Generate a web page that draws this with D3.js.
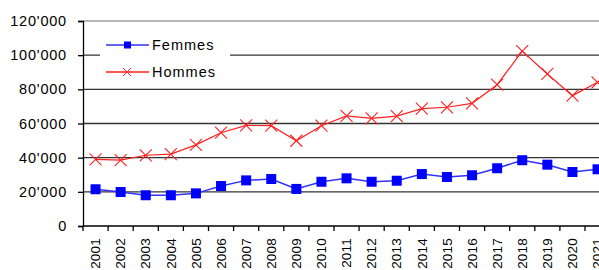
<!DOCTYPE html>
<html>
<head>
<meta charset="utf-8">
<script src="https://cdn.jsdelivr.net/npm/d3@7"></script>
<style>
body { margin: 0; background: #fff; }
svg { display: block; }
text { font-family: Arial, "Liberation Sans", sans-serif; }
</style>
</head>
<body>
<script>
let years = ["2001","2002","2003","2004","2005","2006","2007","2008","2009","2010","2011",
             "2012","2013","2014","2015","2016","2017","2018","2019","2020","2021"];
let femmes = [21500,19900,18000,18000,19100,23400,26700,27500,21700,25900,27900,
              25900,26500,30400,28700,29700,33800,38500,35900,31600,33200];
let hommes = [39000,38600,41400,42100,47500,54600,58900,58700,49900,58700,64400,
              63000,64300,68700,69500,71800,82700,102400,89000,76300,84100];
let yTicks = [0,20000,40000,60000,80000,100000,120000];
let seriesNames = ["Femmes","Hommes"];

let w = 599, h = 270;
let plotLeft = 83, plotTop = 21, plotBottom = 226;
let bandW = 25.1;

let svg = d3.select("body").append("svg")
  .attr("width", w)
  .attr("height", h);

let xScale = d3.scaleBand()
  .domain(years)
  .range([plotLeft, plotLeft + bandW * years.length]);

let yScale = d3.scaleLinear()
  .domain([0, 120000])
  .range([plotBottom, plotTop]);

let fmt = (d) => d3.format(",")(d).replace(/,/g, "'");

// gridlines
svg.append("g").selectAll("line")
  .data(yTicks.filter(d => d > 0))
  .enter().append("line")
  .attr("x1", plotLeft).attr("x2", w)
  .attr("y1", d => yScale(d)).attr("y2", d => yScale(d))
  .attr("stroke", d => d == 120000 ? "#a0a0a0" : "#333")
  .attr("stroke-width", 1.3);

// y axis
let yAxis = d3.axisLeft(yScale).tickValues(yTicks).tickFormat(fmt).tickSize(5).tickPadding(11);
let gy = svg.append("g")
  .attr("transform", "translate(" + plotLeft + ",0)")
  .call(yAxis);
gy.select(".domain").attr("stroke", "#000").attr("stroke-width", 1.3);
gy.selectAll(".tick line").attr("stroke", "#000").attr("stroke-width", 1.3);
gy.selectAll("text")
  .attr("font-size", 14.5).attr("fill", "#000")
  .attr("letter-spacing", 0.8)
  .attr("font-family", "Arial, 'Liberation Sans', sans-serif");

// x axis
let xAxis = d3.axisBottom(xScale).tickSize(0);
let gx = svg.append("g")
  .attr("transform", "translate(0," + plotBottom + ")")
  .call(xAxis);
gx.select(".domain").remove();
gx.selectAll("text")
  .attr("font-size", 13.5).attr("fill", "#000")
  .attr("letter-spacing", 0.2)
  .attr("font-family", "Arial, 'Liberation Sans', sans-serif")
  .attr("transform", "rotate(-90)")
  .attr("text-anchor", "end")
  .attr("dy", "0.35em")
  .attr("x", -12)
  .attr("y", 0);
svg.append("line")
  .attr("x1", plotLeft).attr("x2", w)
  .attr("y1", plotBottom).attr("y2", plotBottom)
  .attr("stroke", "#000").attr("stroke-width", 1.3);
svg.append("g").selectAll("line")
  .data(years)
  .enter().append("line")
  .attr("x1", d => xScale(d)).attr("x2", d => xScale(d))
  .attr("y1", plotBottom).attr("y2", plotBottom + 5)
  .attr("stroke", "#000").attr("stroke-width", 1.3);

// legend background (hides gridline)
svg.append("rect")
  .attr("x", 100).attr("y", 33).attr("width", 130).attr("height", 52)
  .attr("fill", "#fff");

let cx = (d, i) => xScale(years[i]) + xScale.bandwidth() / 2;

// hommes
svg.append("path")
  .datum(hommes)
  .attr("fill", "none")
  .attr("stroke", "#ff2020")
  .attr("stroke-width", 1.2)
  .attr("d", d3.line().x(cx).y(d => yScale(d)));
svg.append("g").selectAll("path")
  .data(hommes)
  .enter().append("path")
  .attr("transform", (d, i) => "translate(" + cx(d, i) + "," + yScale(d) + ")")
  .attr("d", "M-6,-6L6,6M-6,6L6,-6")
  .attr("stroke", "#ff2020")
  .attr("stroke-width", 1.1);

// femmes
svg.append("path")
  .datum(femmes)
  .attr("fill", "none")
  .attr("stroke", "#3030ff")
  .attr("stroke-width", 1.5)
  .attr("d", d3.line().x(cx).y(d => yScale(d)));
svg.append("g").selectAll("rect")
  .data(femmes)
  .enter().append("rect")
  .attr("x", (d, i) => cx(d, i) - 5)
  .attr("y", d => yScale(d) - 5)
  .attr("width", 10).attr("height", 10)
  .attr("fill", "#0000ff");

// legend
let leg = svg.append("g");
seriesNames.forEach((name, i) => {
  let ly = 45 + i * 27;
  let col = i == 0 ? "#3030ff" : "#ff2020";
  leg.append("line")
    .attr("x1", 106).attr("x2", 149).attr("y1", ly).attr("y2", ly)
    .attr("stroke", col).attr("stroke-width", 1.3);
  if (i == 0) {
    leg.append("rect").attr("x", 124).attr("y", ly - 3.5).attr("width", 7).attr("height", 7).attr("fill", "#0000ff");
  } else {
    leg.append("path").attr("d", "M123,"+(ly-4)+"L131,"+(ly+4)+"M123,"+(ly+4)+"L131,"+(ly-4))
      .attr("stroke", col).attr("stroke-width", 1);
  }
  leg.append("text")
    .attr("x", 152).attr("y", ly)
    .attr("dy", "0.35em")
    .attr("font-size", 14.5)
    .attr("letter-spacing", 1)
    .attr("fill", "#000")
    .text(name);
});
</script>
</body>
</html>
